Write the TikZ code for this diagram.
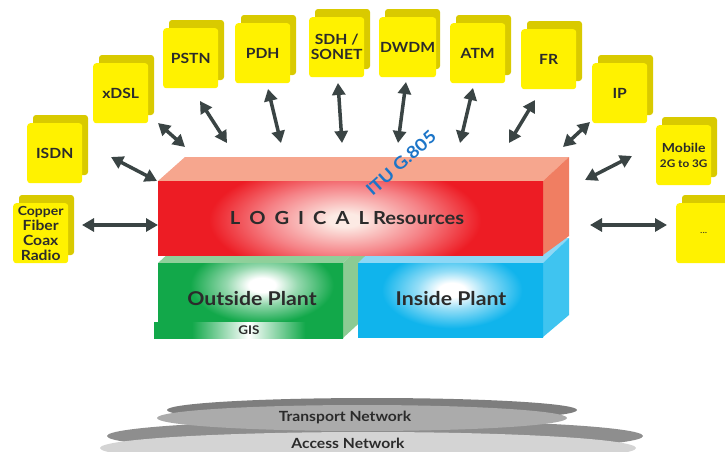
\documentclass[tikz,border=0pt]{standalone}
\usepackage{fontspec}
\setmainfont{Lato}[FakeStretch=1.12]
\usetikzlibrary{arrows.meta}
\definecolor{yfront}{HTML}{FFF200}
\definecolor{yback}{HTML}{D9CA00}
\definecolor{lred}{HTML}{ED1C24}
\definecolor{lredw}{HTML}{FCEAE4}
\definecolor{redtop}{HTML}{F6A68E}
\definecolor{redside}{HTML}{F07E62}
\definecolor{ogreen}{HTML}{12A84A}
\definecolor{greentop}{HTML}{8FD09A}
\definecolor{greenside}{HTML}{8CCB93}
\definecolor{iblue}{HTML}{10B4EC}
\definecolor{bluetop}{HTML}{8DD8F6}
\definecolor{blueside}{HTML}{3FC4F0}
\definecolor{arrowc}{HTML}{3A4444}
\definecolor{txt}{HTML}{2B2B2B}
\definecolor{itublue}{HTML}{1C75C8}
\definecolor{trim}{HTML}{7E7E7E}
\definecolor{tbody}{HTML}{ABABAB}
\definecolor{arim}{HTML}{8E8E8E}
\definecolor{abody}{HTML}{D4D4D4}
\pgfdeclareradialshading{redsh}{\pgfpoint{0bp}{0bp}}{color(0bp)=(lredw); color(2bp)=(lredw); color(10bp)=(lred!55!white); color(17bp)=(lred); color(60bp)=(lred)}
\pgfdeclarehorizontalshading{gissh}{100bp}{color(0bp)=(ogreen); color(35bp)=(ogreen); color(50bp)=(white); color(65bp)=(ogreen); color(100bp)=(ogreen)}
\pgfdeclareradialshading{greensh}{\pgfpoint{0bp}{0bp}}{color(0bp)=(white); color(3bp)=(white); color(8bp)=(ogreen!45!white); color(16bp)=(ogreen); color(60bp)=(ogreen)}
\pgfdeclareradialshading{bluesh}{\pgfpoint{0bp}{0bp}}{color(0bp)=(white); color(3bp)=(white); color(8bp)=(iblue!45!white); color(16bp)=(iblue); color(60bp)=(iblue)}
\tikzset{
  yfrontbox/.style={fill=yfront, rounded corners=3pt, minimum width=55pt, minimum height=60pt,
     inner sep=1pt, align=center, text=txt, font=\bfseries\fontsize{14}{15}\selectfont, anchor=north west},
  ybackbox/.style={fill=yback, rounded corners=3pt},
  biarrow/.style={draw=arrowc, line width=3.5pt, {Triangle[length=12pt,width=13pt]}-{Triangle[length=12pt,width=13pt]}},
  lbl/.style={text=txt, font=\bfseries\fontsize{19}{20}\selectfont, inner sep=0pt},
}
\newcommand\ybox[4]{%
  \fill[ybackbox] (#2+6,#3-8) rectangle ++(55,60);
  \node[yfrontbox] (#1) at (#2,#3) {#4};
}
\begin{document}
\begin{tikzpicture}[x=1pt,y=-1pt]
\clip (0,0) rectangle (725,451);
\fill[white] (0,0) rectangle (725,451);

% yellow boxes
\ybox{copper}{13}{203}{\fontsize{12.5}{14.5}\selectfont Copper\\ Fiber\\ Coax\\ Radio}
\ybox{isdn}{27}{123}{ISDN}
\ybox{xdsl}{93}{63}{xDSL}
\ybox{pstn}{163}{28}{PSTN}
\ybox{pdh}{235}{23}{PDH}
\ybox{sdh}{309}{17}{SDH /\\ SONET}
\ybox{dwdm}{379}{17}{DWDM}
\ybox{atm}{450}{23}{ATM}
\ybox{fr}{521}{29}{FR}
\ybox{ip}{592}{63}{IP}
\ybox{mobile}{656}{125}{\fontsize{12.5}{15}\selectfont Mobile\\ \fontsize{10.5}{12}\selectfont 2G to 3G}
\ybox{more}{676}{203}{\mdseries\fontsize{9}{10}\selectfont ...}

% green block (outside plant)
\fill[greentop] (158,263) -- (343,263) -- (369,239) -- (184,239) -- cycle;
\fill[greenside] (343,263) -- (369,239) -- (369,314) -- (343,338) -- cycle;
\begin{scope}
  \clip (158,263) rectangle (343,321);
  \path[shading=greensh] (150,225) rectangle (374,345);
\end{scope}
\path[shading=gissh] (154,322) rectangle (343,338);
\node[lbl] (outside) at (252,299) {Outside Plant};
\node[text=txt, font=\bfseries\fontsize{12}{13}\selectfont, inner sep=0pt] (gis) at (249,330) {GIS};

% blue block (inside plant)
\fill[bluetop] (358,263) -- (543,263) -- (569,238) -- (384,238) -- cycle;
\fill[blueside] (543,263) -- (569,238) -- (569,315) -- (543,337) -- cycle;
\begin{scope}
  \clip (358,263) rectangle (543,337);
  \path[shading=bluesh] (342,230) rectangle (562,350);
\end{scope}
\node[lbl] (inside) at (451,299) {Inside Plant};

% red block (logical resources)
\fill[redtop] (158,181) -- (543,181) -- (569,157) -- (185,157) -- cycle;
\fill[redside] (543,181) -- (569,157) -- (569,236) -- (543,255) -- cycle;
\begin{scope}
  \clip (158,181) rectangle (543,255);
  \path[shading=redsh] (145,135) rectangle (545,305);
\end{scope}
\node[text=txt, font=\bfseries\fontsize{18}{19}\selectfont, inner sep=0pt, anchor=base] (logical) at (347,224)
  {L\hspace{9pt}O\hspace{9pt}G\hspace{9pt}I\hspace{9pt}C\hspace{9pt}A\hspace{9pt}L\hspace{4pt}Resources};
\node[text=itublue, font=\bfseries\fontsize{17}{18}\selectfont, inner sep=0pt, rotate=42] (itu) at (401,163) {ITU G.805};

% arrows
\coordinate (cuA) at (82,225);  \coordinate (cuB) at (158,225);
\coordinate (isA) at (111,157); \coordinate (isB) at (157,181);
\coordinate (xdA) at (158,123); \coordinate (xdB) at (185,147);
\coordinate (psA) at (200,101); \coordinate (psB) at (227,143);
\coordinate (pdA) at (268,89);  \coordinate (pdB) at (281,143);
\coordinate (sdA) at (338,83);  \coordinate (sdB) at (342,143);
\coordinate (dwA) at (406,82);  \coordinate (dwB) at (398,143);
\coordinate (atA) at (473,88);  \coordinate (atB) at (460,143);
\coordinate (frA) at (535,100); \coordinate (frB) at (509,143);
\coordinate (ipA) at (590,122); \coordinate (ipB) at (563,147);
\coordinate (moA) at (632,156); \coordinate (moB) at (585,180);
\coordinate (mrA) at (667,225); \coordinate (mrB) at (590,225);
\foreach \p in {cu,is,xd,ps,pd,sd,dw,at,fr,ip,mo,mr}{
  \draw[biarrow] (\p A) -- (\p B);
}

% network layers
\fill[arim] (375,436) ellipse [x radius=268, y radius=16];
\fill[abody] (368,448) ellipse [x radius=268, y radius=16];
\fill[trim] (372,410) ellipse [x radius=205, y radius=12];
\fill[tbody] (362,418) ellipse [x radius=205, y radius=13];
\node[text=txt, font=\bfseries\fontsize{14}{15}\selectfont, inner sep=0pt] (transport) at (345,417) {Transport Network};
\node[text=txt, font=\bfseries\fontsize{14}{15}\selectfont, inner sep=0pt] (access) at (348,443) {Access Network};
\end{tikzpicture}
\end{document}
